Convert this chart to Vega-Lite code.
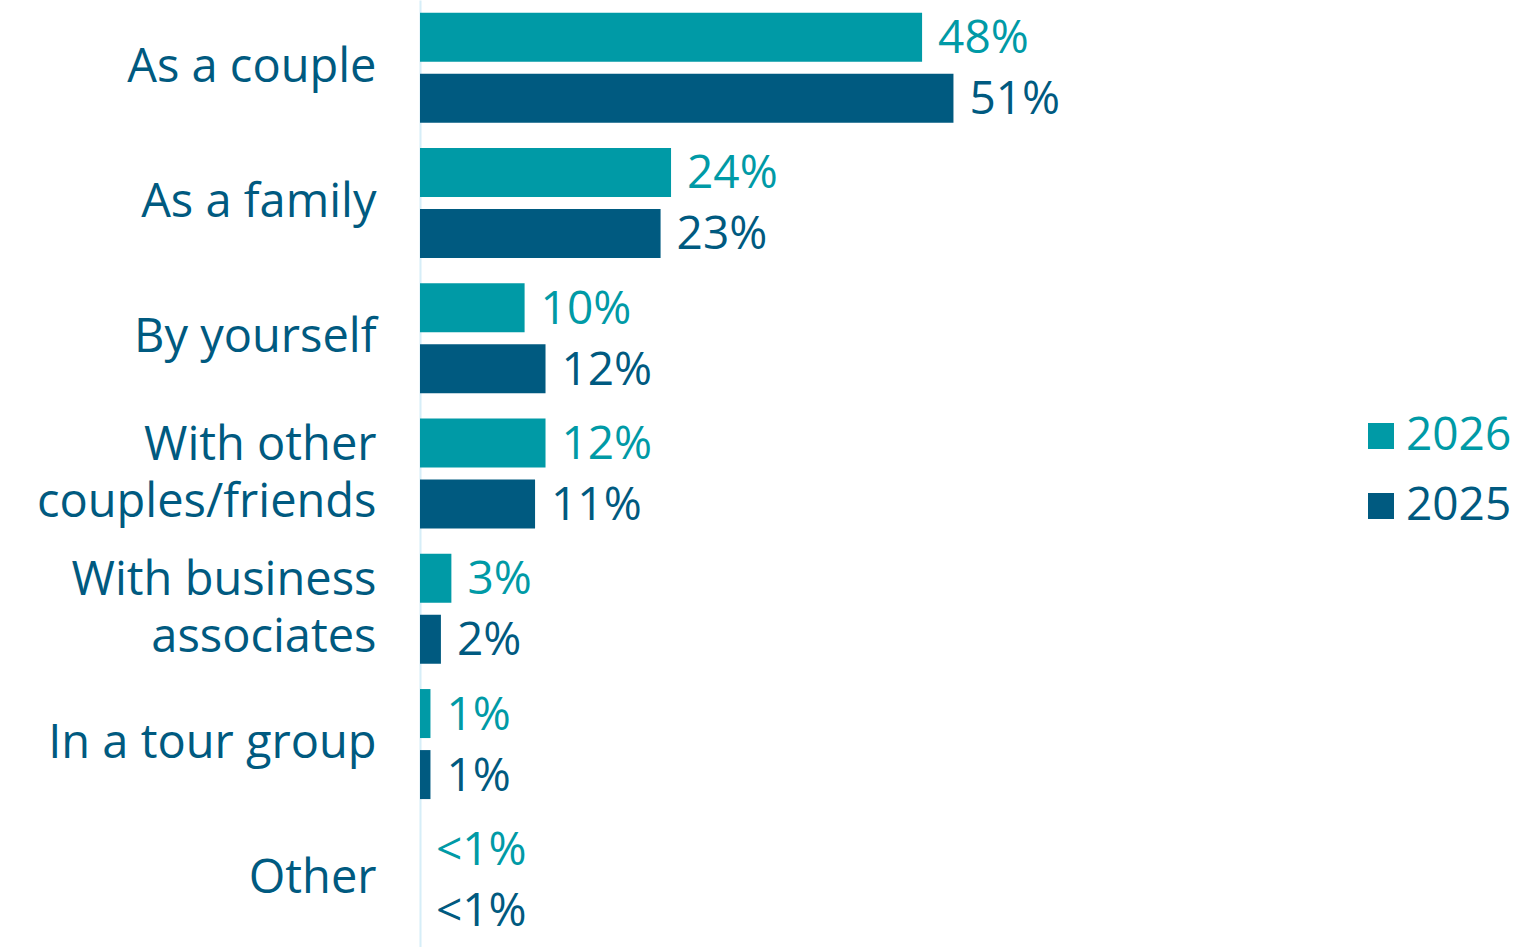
{
  "$schema": "https://vega.github.io/schema/vega-lite/v6.json",
  "autosize": "none",
  "padding": {"left": 420, "top": 0, "right": 63, "bottom": 0},
  "width": 1046,
  "height": 947,
  "config": {
    "view": {"stroke": null},
    "font": "Open Sans"
  },
  "data": {
    "values": [
      {"category": "As a couple", "year": "2026", "value": 48, "label": "48%"},
      {"category": "As a couple", "year": "2025", "value": 51, "label": "51%"},
      {"category": "As a family", "year": "2026", "value": 24, "label": "24%"},
      {"category": "As a family", "year": "2025", "value": 23, "label": "23%"},
      {"category": "By yourself", "year": "2026", "value": 10, "label": "10%"},
      {"category": "By yourself", "year": "2025", "value": 12, "label": "12%"},
      {"category": "With other|couples/friends", "year": "2026", "value": 12, "label": "12%"},
      {"category": "With other|couples/friends", "year": "2025", "value": 11, "label": "11%"},
      {"category": "With business|associates", "year": "2026", "value": 3, "label": "3%"},
      {"category": "With business|associates", "year": "2025", "value": 2, "label": "2%"},
      {"category": "In a tour group", "year": "2026", "value": 1, "label": "1%"},
      {"category": "In a tour group", "year": "2025", "value": 1, "label": "1%"},
      {"category": "Other", "year": "2026", "value": 0, "label": "<1%"},
      {"category": "Other", "year": "2025", "value": 0, "label": "<1%"}
    ]
  },
  "encoding": {
    "y": {
      "field": "category",
      "type": "nominal",
      "sort": null,
      "scale": {"paddingInner": 0, "paddingOuter": 0},
      "axis": {
        "title": null,
        "ticks": false,
        "domainColor": "#D6EEF8",
        "domainWidth": 2,
        "labelPadding": 44,
        "labelFontSize": 47,
        "labelColor": "#005A80",
        "labelLineHeight": 57,
        "labelLimit": 0,
        "labelOffset": {"expr": "indexof(datum.value, '|') >= 0 ? -28 : 0"},
        "labelExpr": "split(datum.value, '|')"
      }
    },
    "yOffset": {
      "field": "year",
      "type": "nominal",
      "sort": ["2026", "2025"],
      "scale": {"paddingInner": 0.197, "paddingOuter": 0.207}
    },
    "x": {
      "field": "value",
      "type": "quantitative",
      "scale": {"domain": [0, 100]},
      "axis": null
    }
  },
  "layer": [
    {
      "mark": {"type": "bar"},
      "encoding": {
        "color": {
          "field": "year",
          "type": "nominal",
          "sort": ["2026", "2025"],
          "scale": {"domain": ["2026", "2025"], "range": ["#009AA6", "#005A80"]},
          "legend": {
            "title": null,
            "orient": "none",
            "legendX": 938,
            "legendY": 413,
            "symbolType": "square",
            "symbolSize": 676,
            "symbolStrokeWidth": 0,
            "labelFontSize": 46,
            "labelOffset": 2,
            "rowPadding": 24,
            "encode": {
              "labels": {
                "update": {
                  "fill": {"signal": "datum.value == '2026' ? '#009AA6' : '#005A80'"}
                }
              }
            }
          }
        }
      }
    },
    {
      "mark": {"type": "text", "align": "left", "baseline": "middle", "dx": 16, "dy": 2, "fontSize": 46},
      "encoding": {
        "text": {"field": "label"},
        "color": {
          "field": "year",
          "type": "nominal",
          "scale": {"domain": ["2026", "2025"], "range": ["#009AA6", "#005A80"]},
          "legend": null
        }
      }
    }
  ]
}
